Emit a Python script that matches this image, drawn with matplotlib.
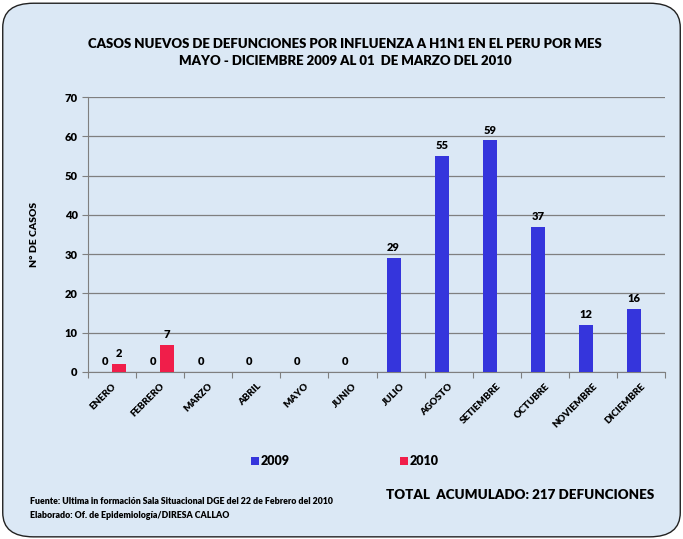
import numpy as np
import matplotlib.pyplot as plt
from matplotlib.patches import FancyBboxPatch, Rectangle

meses = ["ENERO", "FEBRERO", "MARZO", "ABRIL", "MAYO", "JUNIO", "JULIO",
         "AGOSTO", "SETIEMBRE", "OCTUBRE", "NOVIEMBRE", "DICIEMBRE"]
casos_2009 = [0, 0, 0, 0, 0, 0, 29, 55, 59, 37, 12, 16]
casos_2010 = [2, 7]

azul = "#3535dc"
rojo = "#f01e4a"
fondo = "#dbe8f5"

plt.rcParams['font.family'] = ['Lato', 'DejaVu Sans']
peso = "heavy"

fig = plt.figure(figsize=(6.83, 5.39), dpi=100)
fig.patch.set_facecolor("white")
marco = FancyBboxPatch((0.004, 0.004), 0.992, 0.99, boxstyle="round,pad=0,rounding_size=0.045",
                       transform=fig.transFigure, facecolor=fondo, edgecolor="#222222",
                       linewidth=1.0, zorder=-10)
fig.patches.append(marco)

ax = fig.add_axes([88 / 683, 1 - 372 / 539, 577 / 683, 275 / 539])
ax.set_facecolor("none")

x = np.arange(len(meses))
w = 0.29
ax.bar(x[:len(casos_2009)] - w / 2, casos_2009, w, color=azul, zorder=3)
ax.bar(x[:len(casos_2010)] + w / 2, casos_2010, w, color=rojo, zorder=3)

for i, v in enumerate(casos_2009):
    ax.text(i - w / 2, v + 1.2, str(v), ha="center", va="bottom", fontsize=8, fontweight=peso)
for i, v in enumerate(casos_2010):
    ax.text(i + w / 2, v + 1.2, str(v), ha="center", va="bottom", fontsize=8, fontweight=peso)

ax.set_xlim(-0.5, len(meses) - 0.5)
ax.set_ylim(0, 70)
ax.set_yticks(range(0, 71, 10))
ax.yaxis.grid(True, color="#7f7f7f", linewidth=0.9, zorder=0)
ax.set_xticks(np.arange(len(meses) + 1) - 0.5, minor=False)
ax.set_xticklabels([])
ax.set_xticks(x, minor=True)
ax.set_xticklabels(meses, minor=True, rotation=45, ha="right", va="top",
                   fontsize=7, fontweight=peso, rotation_mode="anchor")
ax.tick_params(axis="x", which="minor", length=0, pad=7)
ax.tick_params(axis="x", which="major", length=4, color="#7f7f7f")
ax.tick_params(axis="y", length=4, color="#7f7f7f", labelsize=8)
for lab in ax.get_yticklabels():
    lab.set_fontweight(peso)
for s in ["top", "right"]:
    ax.spines[s].set_visible(False)
for s in ["left", "bottom"]:
    ax.spines[s].set_color("#7f7f7f")
ax.set_ylabel("N° DE CASOS", fontsize=7.5, fontweight=peso, labelpad=18)

fig.text(345 / 683, 1 - 44 / 539, "CASOS NUEVOS DE DEFUNCIONES POR INFLUENZA A H1N1 EN EL PERU POR MES",
         ha="center", va="center", fontsize=9.5, fontweight=peso)
fig.text(345 / 683, 1 - 61 / 539, "MAYO - DICIEMBRE 2009 AL 01  DE MARZO DEL 2010",
         ha="center", va="center", fontsize=9.5, fontweight=peso)

for xp, col, lab in [(251, azul, "2009"), (400, rojo, "2010")]:
    fig.patches.append(Rectangle((xp / 683, 1 - 465 / 539), 8 / 683, 8 / 539,
                                 transform=fig.transFigure, facecolor=col, edgecolor="none"))
    fig.text((xp + 10) / 683, 1 - 461 / 539, lab, ha="left", va="center",
             fontsize=9, fontweight=peso)

fig.text(386 / 683, 1 - 495 / 539, "TOTAL  ACUMULADO: 217 DEFUNCIONES", ha="left", va="center",
         fontsize=9.6, fontweight=peso)
fig.text(30 / 683, 1 - 501 / 539,
         "Fuente: Ultima in formación Sala Situacional DGE del 22 de Febrero del 2010",
         ha="left", va="center", fontsize=6.3, fontweight=peso)
fig.text(30 / 683, 1 - 516 / 539, "Elaborado: Of. de Epidemiología/DIRESA CALLAO",
         ha="left", va="center", fontsize=6.3, fontweight=peso)

fig.savefig("out.png", dpi=100)
